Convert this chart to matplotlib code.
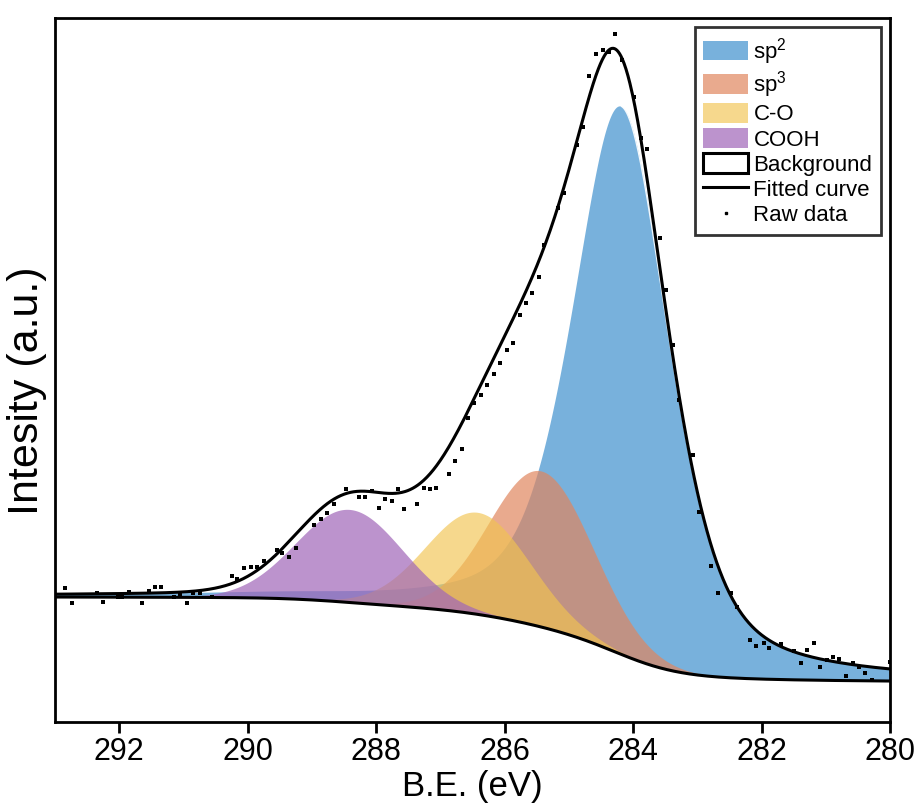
import numpy as np
import matplotlib
matplotlib.use("Agg")
from matplotlib import pyplot as plt
from matplotlib.patches import Patch
from matplotlib.lines import Line2D

plt.rcParams['font.family'] = ['Liberation Sans', 'DejaVu Sans']
plt.rcParams['mathtext.fontset'] = 'custom'
plt.rcParams['mathtext.rm'] = 'Liberation Sans'
plt.rcParams['mathtext.it'] = 'Liberation Sans:italic'

# fitted components: name, centre (eV), height (a.u.), FWHM (eV), lorentz fraction
names = ['sp$^2$', 'sp$^3$', 'C-O', 'COOH']
centers = [284.19, 285.43, 286.42, 288.42]
heights = [548, 156, 102, 93]
fwhms = [1.80, 1.90, 1.90, 1.95]
lmix = [0.5, 0.0, 0.0, 0.0]
colors = ['#78b1dc', '#e0865f', '#f2c450', '#a066b8']
alphas = [1.0, 0.7, 0.65, 0.7]

# Shirley background end levels (a.u.)
bg_low_be = 41
bg_high_be = 125

# raw data points
raw_be = [292.84, 292.74, 292.35, 292.25, 292.02, 291.96, 291.84, 291.65, 291.54, 291.45,
          291.35, 291.15, 291.05, 290.95, 290.85, 290.75, 290.55, 290.25, 290.16, 290.05,
          289.95, 289.86, 289.75, 289.55, 289.46, 289.35, 289.25, 288.97, 288.86, 288.76,
          288.66, 288.47, 288.26, 288.17, 288.06, 287.96, 287.86, 287.76, 287.66, 287.56,
          287.36, 287.26, 287.16, 287.07, 286.87, 286.77, 286.67, 286.57, 286.47, 286.37,
          286.27, 286.17, 286.07, 285.97, 285.87, 285.76, 285.66, 285.57, 285.47, 285.38,
          285.17, 285.07, 284.88, 284.78, 284.68, 284.57, 284.47, 284.37, 284.28, 284.17,
          283.98, 283.88, 283.78, 283.58, 283.49, 283.38, 283.28, 283.07, 282.97, 282.78,
          282.68, 282.48, 282.38, 282.18, 282.08, 281.97, 281.89, 281.69, 281.49, 281.38,
          281.29, 281.19, 281.09, 280.98, 280.89, 280.79, 280.68, 280.58, 280.48, 280.39,
          280.28, 280.00]
raw_int = [133.7, 118.7, 129.3, 119.7, 125.3, 125.3, 129.7, 119.3, 131.0, 134.7,
           134.7, 124.7, 127.0, 118.7, 129.3, 129.3, 124.7, 146.3, 142.7, 154.3,
           155.3, 154.7, 161.0, 172.0, 169.3, 164.7, 173.7, 197.0, 202.7, 209.3,
           218.0, 232.7, 224.7, 224.7, 231.3, 213.7, 222.7, 221.3, 232.7, 212.7,
           218.0, 233.7, 232.7, 233.7, 247.7, 261.3, 272.7, 303.7, 319.3, 326.5,
           337.0, 348.0, 359.0, 372.0, 378.7, 407.0, 418.7, 428.7, 445.3, 476.7,
           513.7, 528.7, 577.0, 595.3, 646.0, 667.7, 672.0, 670.3, 687.7, 662.0,
           625.3, 583.7, 572.7, 483.7, 432.0, 377.0, 322.0, 267.0, 210.3, 156.0,
           128.7, 129.3, 114.7, 82.0, 76.0, 78.7, 73.7, 77.7, 71.0, 58.7,
           72.0, 78.7, 55.3, 62.0, 65.3, 62.7, 46.3, 59.3, 55.3, 49.3,
           42.0, 60.3]


def gl(x, c, h, w, m):
    u = (x - c) / w
    return h * ((1 - m) * np.exp(-4 * np.log(2) * u ** 2) + m / (1 + 4 * u ** 2))


x = np.linspace(280, 293, 1301)
comps = [gl(x, c, h, w, m) for c, h, w, m in zip(centers, heights, fwhms, lmix)]
total = np.sum(comps, axis=0)
cum = np.concatenate([[0], np.cumsum((total[1:] + total[:-1]) / 2 * np.diff(x))])
bg = bg_low_be + (bg_high_be - bg_low_be) * cum / cum[-1]
fit = bg + total

fig = plt.figure(figsize=(9.21, 8.09), dpi=100)
ax = fig.add_axes([0.0597, 0.1075, 0.9067, 0.8703])

for comp, col, a in zip(comps, colors, alphas):
    ax.fill_between(x, bg, bg + comp, color=col, alpha=a, lw=0)
edge = x < centers[0]
ax.plot(x[edge], (bg + comps[0])[edge], color='white', lw=0.9, alpha=0.9)
ax.plot(x, bg, color='black', lw=2.2)
ax.plot(x, fit, color='black', lw=2.2)
ax.scatter(raw_be, raw_int, s=6, color='black', marker='s', lw=0, zorder=5)

ax.set_xlim(293, 280)
ax.set_ylim(0, 704)
ax.set_xticks([292, 290, 288, 286, 284, 282, 280])
ax.set_yticks([])
ax.tick_params(axis='x', labelsize=22, length=8, width=2, pad=3, color='black')
for s in ax.spines.values():
    s.set_linewidth(2)
ax.set_xlabel('B.E. (eV)', fontsize=25, labelpad=2)
ax.set_ylabel('Intesity (a.u.)', fontsize=31)
ax.yaxis.set_label_coords(-0.01, 0.47)

handles = [Patch(facecolor=c, alpha=a, edgecolor='none') for c, a in zip(colors, alphas)]
handles += [Patch(facecolor='white', edgecolor='black', lw=2.2),
            Line2D([], [], color='black', lw=2.2),
            Line2D([], [], color='black', marker='s', ms=2, lw=0)]
labels = names + ['Background', 'Fitted curve', 'Raw data']
leg = ax.legend(handles, labels, loc='upper right', fontsize=16, frameon=True,
                fancybox=False, edgecolor='black', handlelength=2.0, handleheight=1.0,
                handletextpad=0.25, labelspacing=0.12, borderpad=0.4, borderaxespad=0.4)
leg.get_frame().set_linewidth(2)

fig.savefig('out.png', dpi=100)
